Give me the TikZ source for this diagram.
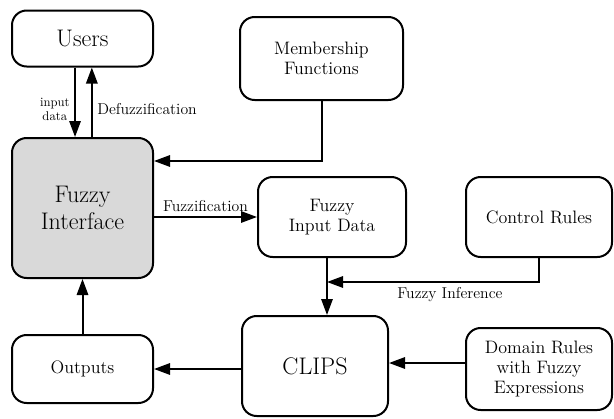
\documentclass[tikz,border=0pt]{standalone}
\usetikzlibrary{arrows.meta}

\begin{document}
\begin{tikzpicture}[x=0.75pt, y=-0.75pt]
	\tikzset{box/.style={draw=black, line width=1.5pt, rounded corners=11pt, align=center, inner sep=0pt}};
	\tikzset{arr/.style={line width=1.5pt, -{Triangle[length=12pt, width=8.5pt]}}};
	\tikzset{big/.style={font=\fontsize{18}{20.5}\selectfont}};
	\tikzset{mid/.style={font=\fontsize{13.5}{15}\selectfont}};
	\tikzset{lbl/.style={font=\fontsize{11.8}{13}\selectfont}};

	\useasboundingbox (0,0) rectangle (614,418);

	\node[box, big, minimum width=105.75pt, minimum height=42pt] (users) at (82.5, 38.5) {Users};
	\node[box, mid, minimum width=122.25pt, minimum height=62.25pt] (member) at (321.5, 58.5) {Membership\\Functions};
	\node[box, big, fill=gray!30, minimum width=105.75pt, minimum height=105pt] (iface) at (82.5, 208) {Fuzzy\\Interface};
	\node[box, mid, minimum width=111pt, minimum height=60pt] (fid) at (332, 217) {Fuzzy\\Input Data};
	\node[box, mid, minimum width=109.5pt, minimum height=60pt] (ctrl) at (539, 217) {Control Rules};
	\node[box, mid, minimum width=105.75pt, minimum height=51pt] (out) at (82.5, 369) {Outputs};
	\node[box, big, minimum width=109.5pt, minimum height=75pt] (clips) at (315, 366) {CLIPS};
	\node[box, mid, minimum width=109.5pt, minimum height=61.5pt] (dom) at (539, 369) {Domain Rules\\with Fuzzy\\Expressions};

	\coordinate (inf) at (327, 282);

	\draw[arr] ([xshift=-5.6pt]users.south) -- ([xshift=-5.6pt]iface.north)
		node[left, pos=0.6, align=center, font=\fontsize{9.5}{10.5}\selectfont] {input\\data};
	\draw[arr] ([xshift=7pt]iface.north) -- ([xshift=7pt]users.south)
		node[lbl, right, pos=0.4] {Defuzzification};
	\draw[arr] (member.south) |- (iface.east |- 0,161);
	\draw[arr] (iface.east |- 0,217) -- (fid.west)
		node[lbl, above, midway] {Fuzzification};
	\draw[arr] (ctrl.south) |- (inf)
		node[lbl, below, pos=0.71] {Fuzzy Inference};
	\draw[arr] (fid.south -| inf) -- (clips.north -| inf);
	\draw[arr] ([yshift=4.5pt]dom.west) -- (clips.east |- 0,363);
	\draw[arr] (clips.west |- out) -- (out.east);
	\draw[arr] (out.north) -- (iface.south);
\end{tikzpicture}
\end{document}
